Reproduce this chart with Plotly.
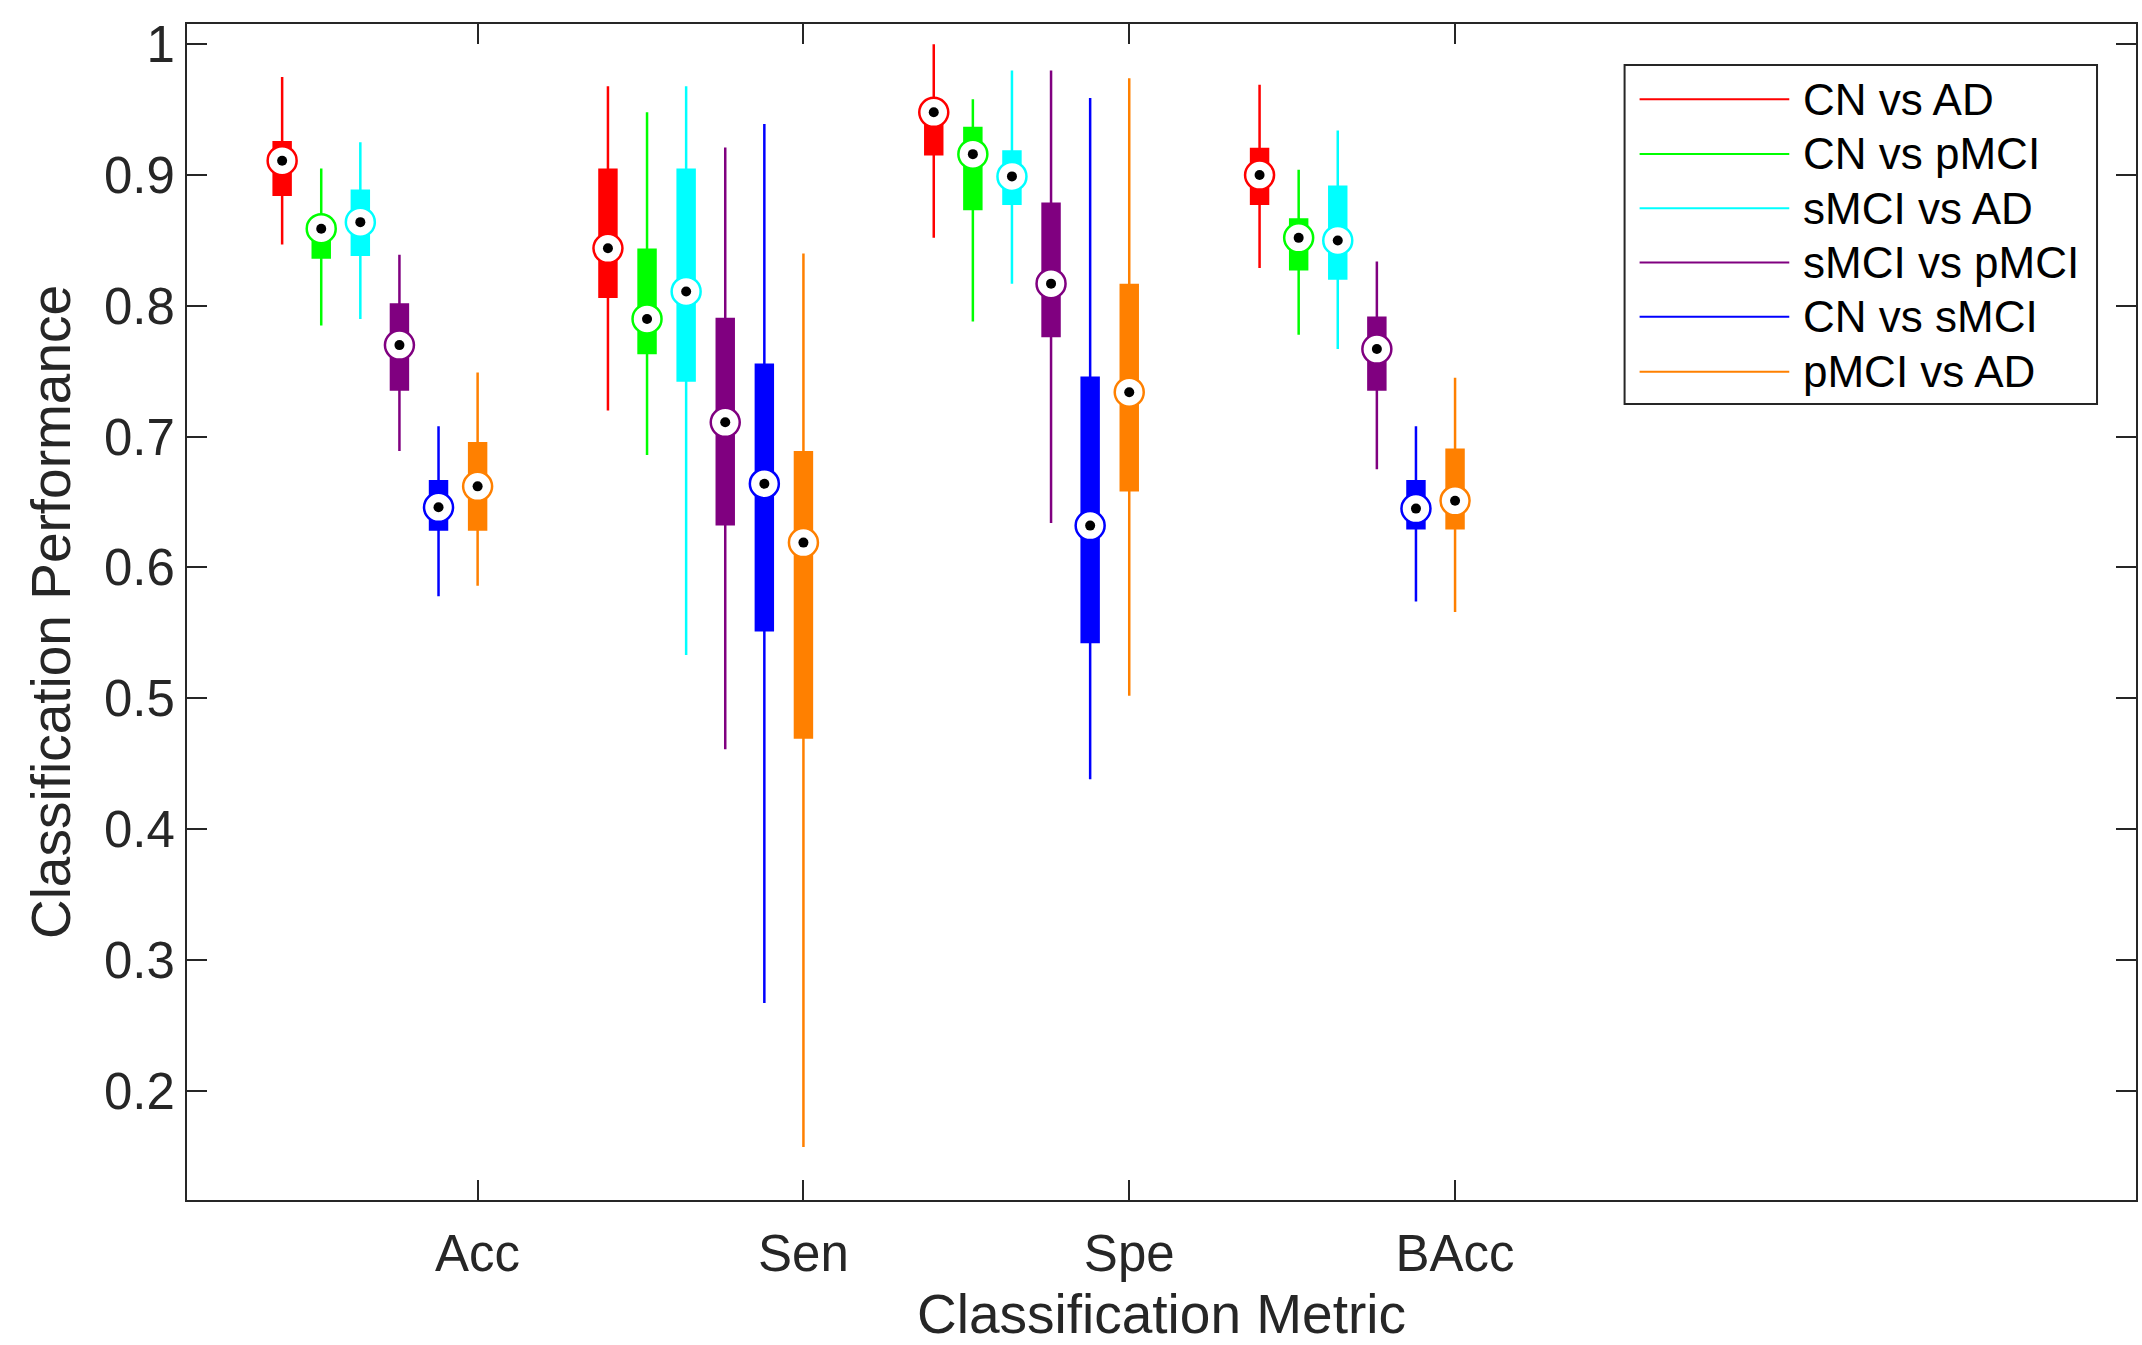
import plotly.graph_objects as go

# Metrics on the x axis and the six diagnostic comparisons
metrics = ["Acc", "Sen", "Spe", "BAcc"]
comparisons = ["CN vs AD", "CN vs pMCI", "sMCI vs AD", "sMCI vs pMCI", "CN vs sMCI", "pMCI vs AD"]
colors = ["#FF0000", "#00FF00", "#00FFFF", "#800080", "#0000FF", "#FF8000"]

y_tick_vals = [0.2, 0.3, 0.4, 0.5, 0.6, 0.7, 0.8, 0.9, 1.0]
y_tick_text = ["0.2", "0.3", "0.4", "0.5", "0.6", "0.7", "0.8", "0.9", "1"]

# Box statistics per comparison, one value per metric (Acc, Sen, Spe, BAcc)
cn_ad_low = [0.847, 0.720, 0.852, 0.829]
cn_ad_q1 = [0.885, 0.807, 0.916, 0.878]
cn_ad_med = [0.911, 0.844, 0.948, 0.900]
cn_ad_q3 = [0.925, 0.904, 0.955, 0.920]
cn_ad_high = [0.975, 0.968, 1.000, 0.969]

cn_pmci_low = [0.785, 0.686, 0.788, 0.778]
cn_pmci_q1 = [0.837, 0.764, 0.874, 0.828]
cn_pmci_med = [0.859, 0.790, 0.916, 0.852]
cn_pmci_q3 = [0.866, 0.843, 0.936, 0.866]
cn_pmci_high = [0.905, 0.948, 0.958, 0.904]

smci_ad_low = [0.790, 0.533, 0.817, 0.767]
smci_ad_q1 = [0.839, 0.743, 0.878, 0.821]
smci_ad_med = [0.864, 0.811, 0.899, 0.850]
smci_ad_q3 = [0.888, 0.904, 0.918, 0.891]
smci_ad_high = [0.925, 0.968, 0.980, 0.934]

smci_pmci_low = [0.689, 0.461, 0.634, 0.675]
smci_pmci_q1 = [0.736, 0.633, 0.777, 0.736]
smci_pmci_med = [0.770, 0.711, 0.817, 0.767]
smci_pmci_q3 = [0.801, 0.790, 0.878, 0.791]
smci_pmci_high = [0.839, 0.921, 0.980, 0.834]

cn_smci_low = [0.578, 0.267, 0.438, 0.574]
cn_smci_q1 = [0.629, 0.552, 0.543, 0.630]
cn_smci_med = [0.646, 0.664, 0.632, 0.645]
cn_smci_q3 = [0.666, 0.755, 0.745, 0.666]
cn_smci_high = [0.708, 0.939, 0.959, 0.708]

pmci_ad_low = [0.586, 0.157, 0.502, 0.566]
pmci_ad_q1 = [0.629, 0.470, 0.659, 0.630]
pmci_ad_med = [0.662, 0.619, 0.734, 0.651]
pmci_ad_q3 = [0.695, 0.688, 0.816, 0.690]
pmci_ad_high = [0.749, 0.840, 0.974, 0.745]

stats = [
    (cn_ad_low, cn_ad_q1, cn_ad_med, cn_ad_q3, cn_ad_high),
    (cn_pmci_low, cn_pmci_q1, cn_pmci_med, cn_pmci_q3, cn_pmci_high),
    (smci_ad_low, smci_ad_q1, smci_ad_med, smci_ad_q3, smci_ad_high),
    (smci_pmci_low, smci_pmci_q1, smci_pmci_med, smci_pmci_q3, smci_pmci_high),
    (cn_smci_low, cn_smci_q1, cn_smci_med, cn_smci_q3, cn_smci_high),
    (pmci_ad_low, pmci_ad_q1, pmci_ad_med, pmci_ad_q3, pmci_ad_high),
]

FONT = "Liberation Sans, Arial, Helvetica, sans-serif"
AXIS_COLOR = "#262626"
group_pos = [1, 2, 3, 4]
step = 0.12
n = len(comparisons)

fig = go.Figure()

# Compact boxes: thick box from q1 to q3, thin whisker line, no caps
for j, (name, col, (lo, q1, med, q3, hi)) in enumerate(zip(comparisons, colors, stats)):
    xs = [g + (j - (n - 1)) * step for g in group_pos]
    fig.add_trace(go.Box(
        x=xs, q1=q1, median=med, q3=q3, lowerfence=lo, upperfence=hi,
        name=name, width=0.052, whiskerwidth=0,
        fillcolor=col, line=dict(color=col, width=2.5),
        boxpoints=False, showlegend=False, hoverinfo="skip",
    ))

# Median markers: ring in the series colour with a black centre dot
for j, (col, (lo, q1, med, q3, hi)) in enumerate(zip(colors, stats)):
    xs = [g + (j - (n - 1)) * step for g in group_pos]
    fig.add_trace(go.Scatter(
        x=xs, y=med, mode="markers", showlegend=False, hoverinfo="skip",
        marker=dict(symbol="circle", size=29, color="white",
                    line=dict(color=col, width=2.5)),
    ))
    fig.add_trace(go.Scatter(
        x=xs, y=med, mode="markers", showlegend=False, hoverinfo="skip",
        marker=dict(symbol="circle", size=10, color="black", line=dict(width=0)),
    ))

# Legend panel in the upper right of the axes
leg_x0, leg_x1 = 0.7376, 0.980
leg_y0, leg_y1 = 0.6769, 0.9651
line_x0, line_x1 = 0.7453, 0.8221
text_x = 0.8283
row_y = [0.936, 0.8895, 0.8433, 0.7971, 0.7511, 0.7044]
shapes = [dict(type="rect", xref="paper", yref="paper", x0=leg_x0, x1=leg_x1,
               y0=leg_y0, y1=leg_y1, line=dict(color=AXIS_COLOR, width=2),
               fillcolor="white", layer="above")]
annotations = []
for name, col, ry in zip(comparisons, colors, row_y):
    shapes.append(dict(type="line", xref="paper", yref="paper", x0=line_x0, x1=line_x1,
                       y0=ry, y1=ry, line=dict(color=col, width=2), layer="above"))
    annotations.append(dict(xref="paper", yref="paper", x=text_x, y=ry, text=name,
                            showarrow=False, xanchor="left", yanchor="middle",
                            font=dict(family=FONT, size=44, color="black")))

fig.update_layout(
    width=2142, height=1345,
    margin=dict(l=187, r=4, t=24, b=145),
    paper_bgcolor="white", plot_bgcolor="white",
    boxmode="overlay",
    shapes=shapes, annotations=annotations,
    font=dict(family=FONT, color=AXIS_COLOR),
)
fig.update_xaxes(
    range=[0.108, 6.09], tickvals=group_pos, ticktext=metrics,
    ticks="inside", ticklen=20, tickwidth=1.5, tickcolor=AXIS_COLOR,
    showline=True, linecolor=AXIS_COLOR, linewidth=2, mirror="ticks",
    showgrid=False, zeroline=False, ticklabelstandoff=8,
    tickfont=dict(family=FONT, size=51, color=AXIS_COLOR),
    title=dict(text="Classification Metric", font=dict(family=FONT, size=55, color=AXIS_COLOR), standoff=18),
)
fig.update_yaxes(
    range=[0.1164, 1.0155], tickvals=y_tick_vals, ticktext=y_tick_text,
    ticks="inside", ticklen=20, tickwidth=1.5, tickcolor=AXIS_COLOR,
    showline=True, linecolor=AXIS_COLOR, linewidth=2, mirror="ticks",
    showgrid=False, zeroline=False,
    tickfont=dict(family=FONT, size=51, color=AXIS_COLOR),
    title=dict(text="Classification Performance", font=dict(family=FONT, size=55, color=AXIS_COLOR), standoff=16),
)

fig.write_html("out.html")
